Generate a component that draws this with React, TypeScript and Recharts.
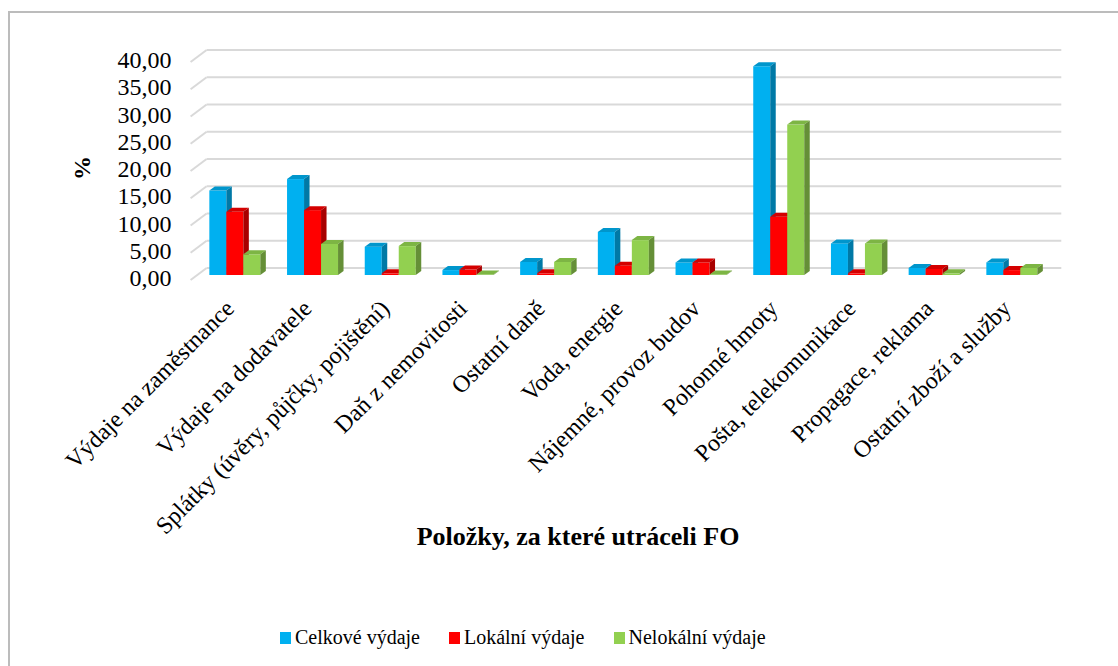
import React from 'react';
import { Bar, BarChart, CartesianGrid, Legend, XAxis, YAxis } from 'recharts';

const categories = [
  'Výdaje na zaměstnance',
  'Výdaje na dodavatele',
  'Splátky (úvěry, půjčky, pojištění)',
  'Daň z nemovitosti',
  'Ostatní daně',
  'Voda, energie',
  'Nájemné, provoz budov',
  'Pohonné hmoty',
  'Pošta, telekomunikace',
  'Propagace, reklama',
  'Ostatní zboží a služby',
];
const celkove = [15.5, 17.6, 5.2, 0.9, 2.4, 7.9, 2.3, 38.3, 5.8, 1.3, 2.3];
const lokalni = [11.6, 11.9, 0.3, 1.0, 0.3, 1.7, 2.3, 10.7, 0.3, 1.1, 0.9];
const nelokalni = [3.8, 5.7, 5.3, 0.1, 2.4, 6.4, 0.1, 27.6, 5.8, 0.3, 1.3];
const yTicks = [0, 5, 10, 15, 20, 25, 30, 35, 40];

const data = categories.map((name, i) => ({
  name,
  celkove: celkove[i],
  lokalni: lokalni[i],
  nelokalni: nelokalni[i],
}));

const FONT = '"Liberation Serif", "Times New Roman", serif';
const GRID = '#d9d9d9';

// 3d look: the back wall sits behind the bar plane, the axis labels in front of it
const BACK = { dx: 10, dy: -7 };
const FRONT = { dx: -6, dy: 5 };
const DEPTH = { dx: 5.5, dy: 4 };

const palette = {
  celkove: { front: '#00b0f0', top: '#0096cc', side: '#0079a6' },
  lokalni: { front: '#ff0000', top: '#d40000', side: '#a80000' },
  nelokalni: { front: '#92d050', top: '#7db544', side: '#658f37' },
};

type Colors = { front: string; top: string; side: string };

function Box3D(props: any & { colors: Colors }) {
  const { x, y, width, height, colors } = props;
  if (x == null || y == null) return null;
  const w = width;
  const h = Math.max(height, 0);
  const { dx, dy } = DEPTH;
  return (
    <g>
      <rect x={x} y={y} width={w} height={h} fill={colors.front} />
      <polygon
        points={`${x},${y} ${x + dx},${y - dy} ${x + w + dx},${y - dy} ${x + w},${y}`}
        fill={colors.top}
      />
      <polygon
        points={`${x + w},${y} ${x + w + dx},${y - dy} ${x + w + dx},${y + h - dy} ${x + w},${y + h}`}
        fill={colors.side}
      />
    </g>
  );
}

function GridLine(props: any) {
  const { x1, x2, y1 } = props;
  return (
    <g key={props.key}>
      <line
        x1={x1 + FRONT.dx}
        y1={y1 + FRONT.dy}
        x2={x1 + BACK.dx}
        y2={y1 + BACK.dy}
        stroke={GRID}
        strokeWidth={2}
      />
      <line x1={x1 + BACK.dx} y1={y1 + BACK.dy} x2={x2 + BACK.dx} y2={y1 + BACK.dy} stroke={GRID} strokeWidth={2} />
    </g>
  );
}

function YTick({ x, y, payload }: any) {
  return (
    <text x={x - 25} y={y + FRONT.dy - 2} textAnchor="end" dominantBaseline="central" fontSize={24} fontFamily={FONT} fill="#000">
      {payload.value.toFixed(2).replace('.', ',')}
    </text>
  );
}

function XTick({ x, y, payload }: any) {
  const ty = y + 35;
  return (
    <text x={x} y={ty} textAnchor="end" transform={`rotate(-45, ${x}, ${ty})`} fontSize={24} fontFamily={FONT} fill="#000">
      {payload.value}
    </text>
  );
}

function LegendContent({ payload }: any) {
  return (
    <div style={{ display: 'flex', alignItems: 'center', fontFamily: FONT, fontSize: 20, color: '#000' }}>
      {(payload || []).map((item: any) => (
        <div key={item.value} style={{ display: 'flex', alignItems: 'center', marginRight: 29 }}>
          <span style={{ width: 11, height: 12, background: item.color, marginRight: 4, display: 'inline-block' }} />
          <span>{item.value}</span>
        </div>
      ))}
    </div>
  );
}

export default function App() {
  return (
    <div style={{ position: 'relative', width: 1118, height: 666, overflow: 'hidden', background: '#fff' }}>
      <style>{'body{margin:0}'}</style>
      <div
        style={{
          position: 'absolute',
          left: 8,
          top: 11,
          width: 1200,
          height: 700,
          borderLeft: '2px solid #bcbcbc',
          borderTop: '2px solid #bcbcbc',
        }}
      />
      <BarChart
        width={1118}
        height={666}
        data={data}
        margin={{ top: 57, right: 66.7, bottom: 291, left: 136.6 }}
        barCategoryGap="16.4%"
        barGap={0}
        style={{ position: 'absolute', left: 0, top: 0 }}
      >
        <CartesianGrid vertical={false} horizontal={GridLine} />
        <YAxis
          width={60}
          domain={[0, 40]}
          ticks={yTicks}
          tickSize={0}
          tickMargin={0}
          axisLine={false}
          tickLine={false}
          tick={<YTick />}
          allowDataOverflow
        />
        <XAxis
          dataKey="name"
          height={100}
          interval={0}
          tickSize={0}
          tickMargin={0}
          axisLine={false}
          tickLine={false}
          tick={<XTick />}
        />
        <Legend
          layout="horizontal"
          verticalAlign="middle"
          align="center"
          wrapperStyle={{ top: 626, left: 280, width: 700 }}
          content={<LegendContent />}
        />
        <Bar
          dataKey="celkove"
          name="Celkové výdaje"
          fill={palette.celkove.front}
          isAnimationActive={false}
          shape={(p: any) => <Box3D {...p} colors={palette.celkove} />}
        />
        <Bar
          dataKey="lokalni"
          name="Lokální výdaje"
          fill={palette.lokalni.front}
          isAnimationActive={false}
          shape={(p: any) => <Box3D {...p} colors={palette.lokalni} />}
        />
        <Bar
          dataKey="nelokalni"
          name="Nelokální výdaje"
          fill={palette.nelokalni.front}
          isAnimationActive={false}
          shape={(p: any) => <Box3D {...p} colors={palette.nelokalni} />}
        />
      </BarChart>
      <div
        style={{
          position: 'absolute',
          left: 82,
          top: 168,
          transform: 'translate(-50%, -50%) rotate(-90deg)',
          fontFamily: FONT,
          fontWeight: 'bold',
          fontSize: 24,
          lineHeight: 1,
        }}
      >
        %
      </div>
      <div
        style={{
          position: 'absolute',
          left: 578,
          top: 537,
          transform: 'translate(-50%, -50%)',
          fontFamily: FONT,
          fontWeight: 'bold',
          fontSize: 26,
          lineHeight: 1,
          whiteSpace: 'nowrap',
        }}
      >
        Položky, za které utráceli FO
      </div>
    </div>
  );
}
